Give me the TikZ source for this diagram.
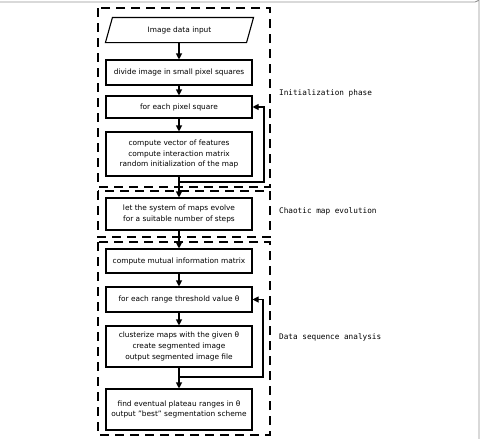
\documentclass[tikz,border=0pt]{standalone}
\usepackage{fontspec}
\setmainfont{DejaVu Sans}
\newfontfamily\monof{DejaVu Sans Mono}
\usetikzlibrary{arrows.meta}
\begin{document}
\begin{tikzpicture}[x=1pt,y=-1pt,
  stepbox/.style={draw,line width=1.1pt,minimum width=146pt,inner sep=0pt,align=center,
     font=\fontsize{7.4}{10.7}\selectfont},
  phase/.style={draw,line width=1.2pt,dash pattern=on 9pt off 6pt},
  lbl/.style={anchor=west,inner sep=0pt,font=\monof\fontsize{7.7}{9}\selectfont},
  arr/.style={line width=1.1pt,-{Triangle[length=6pt,width=6pt]}},
  ln/.style={line width=1.1pt}]
\useasboundingbox (0,0) rectangle (482,439);
% outer grey frame (cropped)
\draw[gray!85,line width=0.9pt] (0,2) -- (475,2) arc[start angle=90,end angle=0,radius=4] -- (479,440);
% phase frames
\draw[phase] (98,8) rectangle (270,187);
\draw[phase] (98,191) rectangle (270,237);
\draw[phase] (98,242) rectangle (270,435);
% input parallelogram
\node[stepbox,draw=none,minimum width=147pt,minimum height=24pt] (in) at (179.5,30) {Image data input};
\draw[ln] (in.south west) -- ([xshift=7pt]in.north west) -- (in.north east) -- ([xshift=-7pt]in.south east) -- cycle;
\node[stepbox,minimum height=25pt] (b1) at (179,72.5) {divide image in small pixel squares};
\node[stepbox,minimum height=22pt] (b2) at (179,107) {for each pixel square};
\node[stepbox,minimum height=44pt] (b3) at (179,154) {compute vector of features\\compute interaction matrix\\random initialization of the map};
\node[stepbox,minimum height=32pt] (b4) at (179,214) {let the system of maps evolve\\for a suitable number of steps};
\node[stepbox,minimum height=24pt] (b5) at (179,261) {compute mutual information matrix};
\node[stepbox,minimum height=25pt] (b6) at (179,299.5) {for each range threshold value θ};
\node[stepbox,minimum height=41pt] (b7) at (179,346.5) {clusterize maps with the given θ\\create segmented image\\output segmented image file};
\node[stepbox,minimum height=41pt] (b8) at (179,409.5) {find eventual plateau ranges in θ\\output "best" segmentation scheme};
% labels
\node[lbl] (l1) at (279,93) {Initialization phase};
\node[lbl] (l2) at (279,211) {Chaotic map evolution};
\node[lbl] (l3) at (279,337) {Data sequence analysis};
% coordinates for loops
\coordinate (j1) at (179,182);
\coordinate (j1r) at (264,182);
\coordinate (j2) at (179,377);
\coordinate (j2r) at (263,377);
% arrows
\draw[arr] ([xshift=-0.5pt]in.south) -- (b1.north);
\draw[arr] (b1) -- (b2);
\draw[arr] (b2) -- (b3);
\draw[arr] (b3) -- (b4);
\draw[arr] (b4) -- (b5);
\draw[arr] (b5) -- (b6);
\draw[arr] (b6) -- (b7);
\draw[arr] (b7) -- (b8);
\draw[arr] (j1) -- (j1r) |- (b2.east);
\draw[arr] (j2) -- (j2r) |- (b6.east);
\end{tikzpicture}
\end{document}
